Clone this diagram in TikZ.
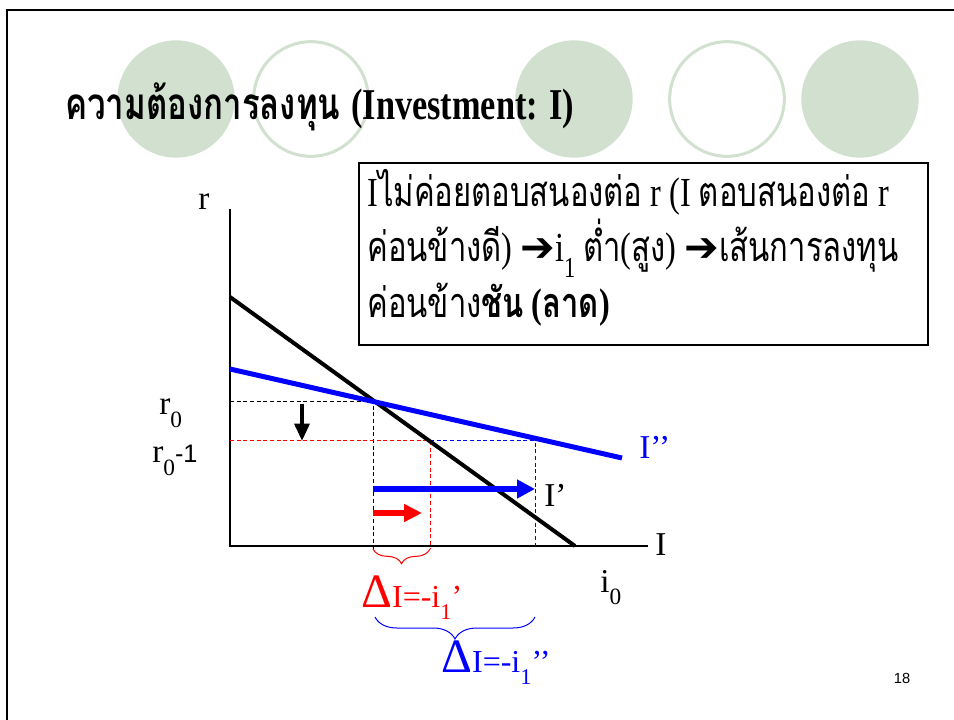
\documentclass[tikz,border=0pt]{standalone}
\usepackage{fontspec}
\usepackage{graphicx}
\setmainfont{Liberation Serif}
\newfontfamily\thaifont[Script=Thai,FakeStretch=0.75]{Loma}
\newfontfamily\narrowserif[FakeStretch=0.78]{Liberation Serif}
\newfontfamily\arialfont{Liberation Sans}
\newfontfamily\symfont{DejaVu Sans}
\usetikzlibrary{arrows.meta,decorations.pathreplacing}
\definecolor{ringgreen}{RGB}{209,224,207}
\definecolor{pureblue}{RGB}{0,0,255}
\definecolor{purered}{RGB}{255,0,0}
\newcommand{\lowsub}[1]{\raisebox{-0.38em}{\scalebox{0.7}{#1}}}
\newcommand{\thai}[1]{{\thaifont #1}}
\newcommand{\bigarrow}{{\symfont ➔}}
\newcommand{\deltasym}{{\fontsize{36}{36}\selectfont Δ}}

\begin{document}
\begin{tikzpicture}[x=0.75pt,y=-0.75pt,
   ring/.style={draw=ringgreen,line width=2.25pt},
   disc/.style={fill=ringgreen},
   axis/.style={line width=1.1pt},
   guide/.style={line width=0.75pt,dash pattern=on 3pt off 2pt},
   curve/.style={line width=3pt},
   lbl/.style={anchor=base west,inner sep=0pt,font=\fontsize{25}{30}\selectfont},
   boxline/.style={anchor=base west,inner sep=0pt,font=\fontsize{31}{36}\narrowserif}]
  \useasboundingbox (0,0) rectangle (954,720);
  % slide frame and decoration
  \draw[line width=2.2pt] (7,725) -- (7,10) -- (960,10);
  \foreach \cx in {176,574,860} \fill[disc] (\cx,99) circle[radius=44pt];
  \foreach \cx in {311,727} \draw[ring] (\cx,99) circle[radius=43pt];
  \node[anchor=base west,inner sep=0pt,font=\fontsize{33}{40}\selectfont\bfseries] (title) at (65,120)
     {\thai{ความต้องการลงทุน} {\narrowserif (Investment: I)}};
  % note box
  \node[draw,line width=1.2pt,fill=white,anchor=north west,inner sep=0pt,
        minimum width=427pt,minimum height=136.5pt] (note) at (358,162) {};
  \node[boxline] (l1) at (367,207) {I\thai{ไม่ค่อยตอบสนองต่อ} r (I \thai{ตอบสนองต่อ} r};
  \node[boxline] (l2) at (367,262) {\thai{ค่อนข้างดี}) \bigarrow i\lowsub{1} \thai{ต่ำ}(\thai{สูง}) \bigarrow\thai{เส้นการลงทุน}};
  \node[boxline] (l3) at (367,318) {\thai{ค่อนข้าง}\textbf{\thai{ชัน} (\thai{ลาด})}};
  % axes
  \coordinate (O) at (230,546);
  \coordinate (rtop) at (230,209);
  \coordinate (Iend) at (648,546);
  \draw[axis] (rtop) -- (O) -- (Iend);
  % guide lines
  \coordinate (r0) at (230,402);
  \coordinate (r1) at (230,441);
  \coordinate (E0) at (373,402);
  \coordinate (E1) at (430,441);
  \coordinate (E2) at (535,441);
  \coordinate (F0) at (373,549);
  \coordinate (F1) at (430,549);
  \coordinate (F2) at (535,546);
  \draw[guide] (r0) -- (E0) -- (F0);
  \draw[guide,purered] (r1) -- (E1) -- (F1);
  \draw[guide,pureblue] (E1) -- (E2) -- (F2);
  % investment curves
  \coordinate (A1) at (230,297);
  \coordinate (A2) at (575,546);
  \coordinate (B1) at (230,369);
  \coordinate (B2) at (622,458);
  \draw[curve] (A1) -- (A2);
  \draw[curve,pureblue,line width=3.75pt] (B1) -- (B2);
  % shifts
  \coordinate (d0) at (302,404);
  \coordinate (d1) at (302,441);
  \coordinate (u0) at (373,489);
  \coordinate (u1) at (535,489);
  \coordinate (v0) at (373,513);
  \coordinate (v1) at (422,513);
  \draw[line width=3pt,-{Triangle[length=13pt,width=11pt]}] (d0) -- (d1);
  \draw[pureblue,line width=4.5pt,-{Triangle[length=13.5pt,width=13.5pt]}] (u0) -- (u1);
  \draw[purered,line width=4pt,-{Triangle[length=13.5pt,width=12.75pt]}] (v0) -- (v1);
  % braces
  \coordinate (G0) at (375,617);
  \coordinate (G1) at (535,617);
  \draw[purered,line width=0.75pt,decorate,decoration={brace,amplitude=11pt}] (F1) -- (F0);
  \draw[pureblue,line width=0.75pt,decorate,decoration={brace,amplitude=16.5pt}] (G1) -- (G0);
  % labels
  \node[lbl] (rlab) at (198,210) {r};
  \node[lbl] (r0lab) at (159,415) {r\lowsub{0}};
  \node[lbl] (r1lab) at (152,463) {r\lowsub{0}{\arialfont\fontsize{19}{19}\selectfont -1}};
  \node[lbl] (Ilab) at (655,555) {I};
  \node[lbl,pureblue] (Jlab) at (639,459) {I’’};
  \node[lbl] (I1lab) at (544,506) {I’};
  \node[lbl] (i0lab) at (600,592) {i\lowsub{0}};
  \node[lbl,purered,font=\fontsize{24}{30}\selectfont] (dI1) at (361,607) {\deltasym I=-i\lowsub{1}’};
  \node[lbl,pureblue,font=\fontsize{24}{30}\selectfont] (dI2) at (441,672) {\deltasym I=-i\lowsub{1}’’};
  \node[font=\arialfont\fontsize{11}{13}\selectfont] (pg) at (902,678) {18};
\end{tikzpicture}
\end{document}
